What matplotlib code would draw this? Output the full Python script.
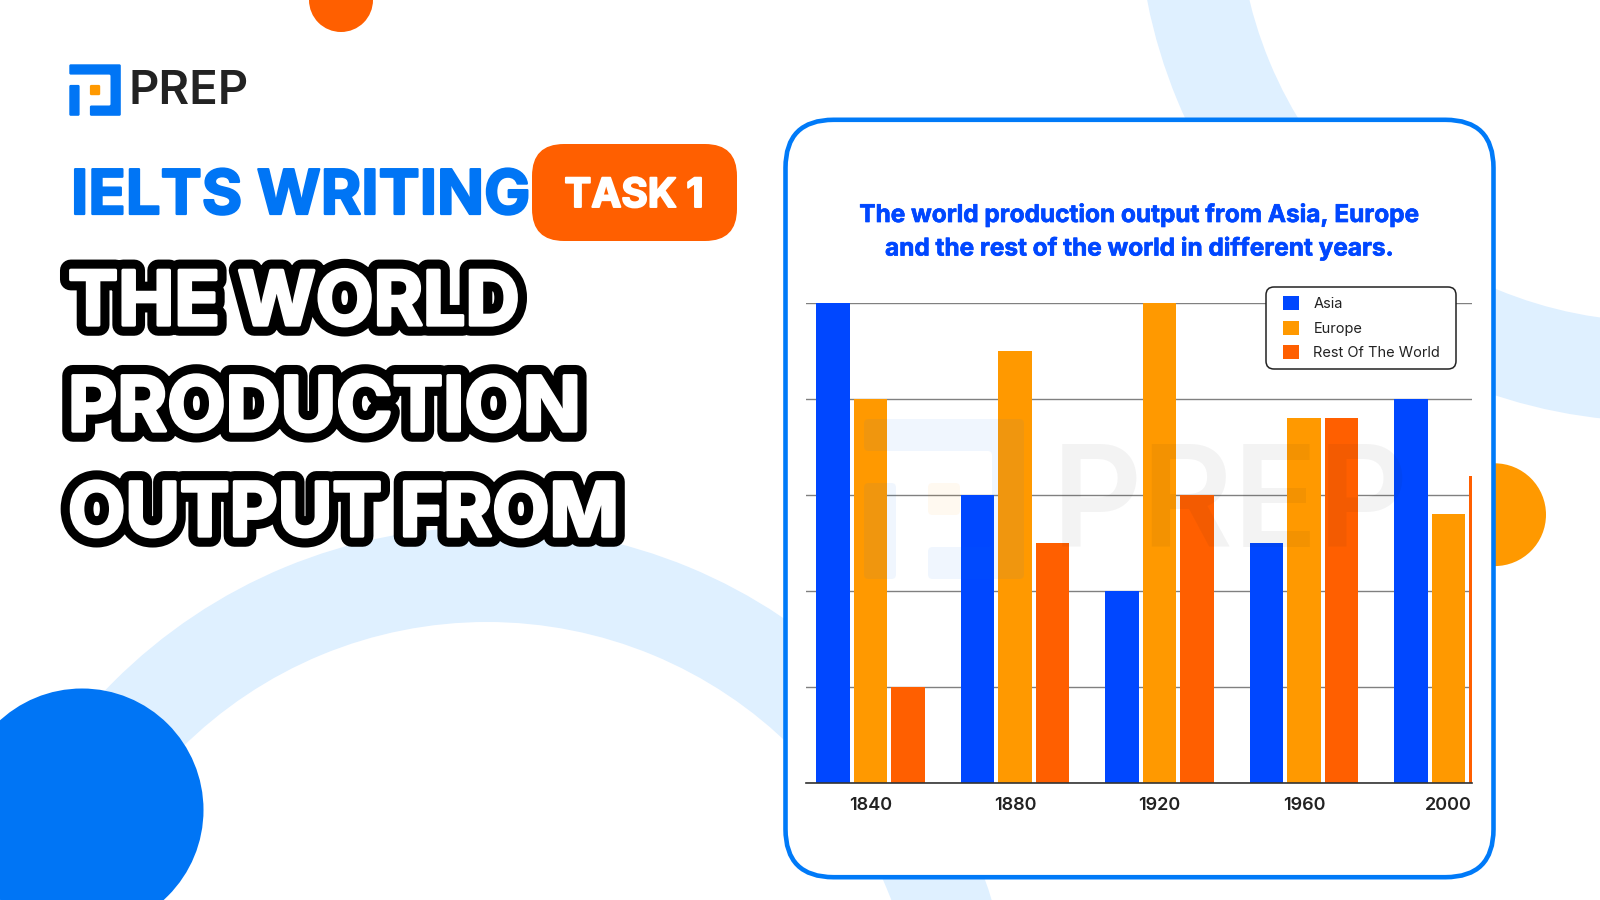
import matplotlib
matplotlib.use("Agg")
import matplotlib.pyplot as plt
import matplotlib.patheffects as pe
from matplotlib.patches import Circle, Wedge, FancyBboxPatch, PathPatch
from matplotlib.path import Path
import numpy as np

years = ["1840", "1880", "1920", "1960", "2000"]
asia = [100, 60, 40, 50, 80]
europe = [80, 90, 100, 76, 56]
rest = [20, 50, 60, 76, 64]
series_names = ["Asia", "Europe", "Rest Of The World"]
title_lines = ["The world production output from Asia, Europe",
               "and the rest of the world in different years."]
head_lines = ["THE WORLD", "PRODUCTION", "OUTPUT FROM"]

C_BLUE = "#0047FF"
C_AMBER = "#FF9900"
C_ORANGE = "#FF5F00"
C_BRAND = "#0075F5"
C_RING = "#DFF0FF"
FONT = ["Inter", "DejaVu Sans"]

fig = plt.figure(figsize=(16, 9), dpi=100, facecolor="white")


def px_axes(z):
    a = fig.add_axes([0, 0, 1, 1], zorder=z)
    a.set_xlim(0, 1600)
    a.set_ylim(900, 0)
    a.axis("off")
    a.patch.set_alpha(0)
    return a


def rounded(points, r):
    verts, codes = [], []
    n = len(points)
    for i in range(n):
        p = np.array(points[i], float)
        a = np.array(points[i - 1], float)
        b = np.array(points[(i + 1) % n], float)
        s = p + (a - p) / np.linalg.norm(a - p) * r
        e = p + (b - p) / np.linalg.norm(b - p) * r
        verts += [tuple(s), tuple(p), tuple(e)]
        codes += [Path.MOVETO if i == 0 else Path.LINETO, Path.CURVE3, Path.CURVE3]
    verts.append(verts[0])
    codes.append(Path.CLOSEPOLY)
    return Path(verts, codes)


def logo(ax, x0, y0, u, alpha=1.0, z=3):
    frame = [(0, 0), (5, 0), (5, 5), (2, 5), (2, 4), (4, 4), (4, 1), (0, 1)]
    left = [(0, 2), (1, 2), (1, 5), (0, 5)]
    dot = [(2, 2), (3, 2), (3, 3), (2, 3)]
    for pts, col in ((frame, C_BRAND), (left, C_BRAND), (dot, C_AMBER)):
        path = rounded([(x0 + a * u, y0 + b * u) for a, b in pts], 0.14 * u)
        ax.add_patch(PathPatch(path, fc=col, ec="none", alpha=alpha, zorder=z))


# background decoration
bg = px_axes(0)
bg.add_patch(Wedge((487, 1055), 528, 0, 360, width=95, fc=C_RING, ec="none", zorder=1))
bg.add_patch(Wedge((1658.5, -99.4), 521, 0, 360, width=100, fc=C_RING, ec="none", zorder=1))
bg.add_patch(Circle((341, 0), 32, fc=C_ORANGE, ec="none", zorder=2))
bg.add_patch(Circle((1494.6, 514.7), 51.4, fc=C_AMBER, ec="none", zorder=2))
bg.add_patch(Circle((82, 810), 121.5, fc=C_BRAND, ec="none", zorder=2))
bg.add_patch(FancyBboxPatch((785.5 + 48, 119.8 + 48), 708 - 96, 757.4 - 96,
                            boxstyle="round,pad=48,rounding_size=48",
                            fc="white", ec="#007AF8", lw=3.3, zorder=3))

# logo and headings
logo(bg, 69.3, 64.3, 10.3)
bg.text(129, 104.5, "PREP", family=FONT, fontsize=34, weight="semibold", color="#222222",
        va="baseline", ha="left", zorder=4)
bg.text(71, 214, "IELTS WRITING", family=FONT, fontsize=44.4, weight="bold", color=C_BRAND,
        va="baseline", ha="left", zorder=4,
        path_effects=[pe.withStroke(linewidth=1.6, foreground=C_BRAND)])
bg.add_patch(FancyBboxPatch((532 + 32, 144 + 32), 205 - 64, 97 - 64,
                            boxstyle="round,pad=32,rounding_size=32",
                            fc=C_ORANGE, ec="none", zorder=4))
bg.text(634, 207, "TASK 1", family=FONT, fontsize=29, weight="bold", color="white",
        va="baseline", ha="center", zorder=5,
        path_effects=[pe.withStroke(linewidth=1.4, foreground="white")])
for s, base, size in zip(head_lines, [325, 431, 536], [54.1, 54.7, 53.6]):
    bg.text(68, base, s, family=FONT, fontsize=size, weight="bold", color="white",
            va="baseline", ha="left", zorder=5,
            path_effects=[pe.Stroke(linewidth=15.5, foreground="black"),
                          pe.Stroke(linewidth=2.4, foreground="white"),
                          pe.Normal()])

# chart
ax = fig.add_axes([806 / 1600, 1 - 783 / 900, (1472 - 806) / 1600, (783 - 303) / 900], zorder=1)
ax.patch.set_alpha(0)
pos = np.arange(len(years))
step = 0.2596
width = 0.2326
bars = []
for off, vals, col in zip((-step, 0, step), (asia, europe, rest), (C_BLUE, C_AMBER, C_ORANGE)):
    bars.append(ax.bar(pos + off, vals, width, color=col, zorder=3))
ax.set_xlim(-0.447, 4.163)
ax.set_ylim(0, 100)
ax.set_yticks(range(0, 101, 20))
ax.set_yticklabels([])
ax.set_xticks(pos)
ax.set_xticklabels(years, family=FONT, fontsize=13, weight="semibold", color="#222222")
ax.tick_params(axis="both", length=0)
ax.tick_params(axis="x", pad=10)
ax.grid(axis="y", color="#808080", lw=1.0, zorder=1)
for k in ("top", "left", "right"):
    ax.spines[k].set_visible(False)
ax.spines["bottom"].set_color("#333333")
ax.spines["bottom"].set_linewidth(1.2)
ax.spines["bottom"].set_zorder(4)

# overlay: title, watermark, legend
top = px_axes(2)
for s, base in zip(title_lines, [222, 255.5]):
    top.text(1139, base, s, family=FONT, fontsize=17.55, weight="bold", color=C_BLUE,
             va="baseline", ha="center",
             path_effects=[pe.withStroke(linewidth=0.5, foreground=C_BLUE)])
logo(top, 864, 419, 32, alpha=0.06)
top.text(1052, 546.7, "PREP", family=FONT, fontsize=101, weight="semibold", color="#222222",
         alpha=0.05, va="baseline", ha="left")
top.add_patch(FancyBboxPatch((1266 + 8, 287 + 8), 190 - 16, 82 - 16,
                             boxstyle="round,pad=8,rounding_size=8",
                             fc="white", ec="#222222", lw=1.1, zorder=5))
leg = top.legend([b[0] for b in bars], series_names, loc="upper left",
                 bbox_to_anchor=(1282.7, 296.5), bbox_transform=top.transData,
                 frameon=False, borderpad=0, borderaxespad=0,
                 prop={"family": FONT, "size": 10.5},
                 handlelength=1.1, handleheight=1.1, handletextpad=1.0, labelspacing=0.64,
                 labelcolor="#222222")
leg.set_zorder(6)

fig.savefig("out.png", dpi=100)
